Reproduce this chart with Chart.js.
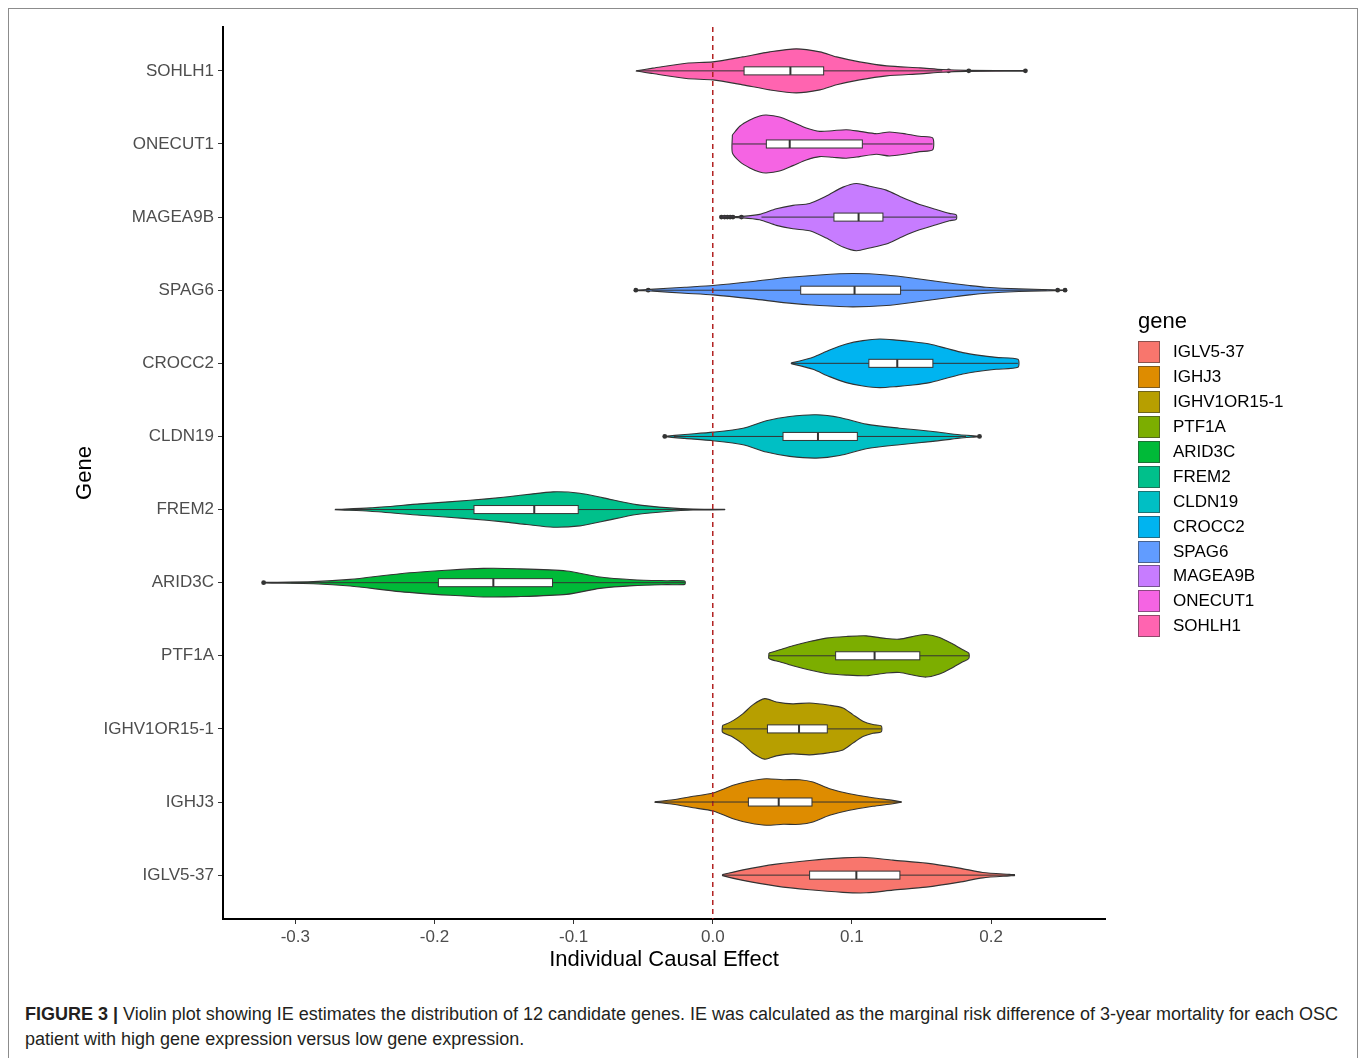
<!DOCTYPE html>
<html lang="en">
<head>
    <meta charset="UTF-8" />
    <title>Figure 3 - Individual causal effect by gene</title>
    <script src="https://cdn.jsdelivr.net/npm/chart.js"></script>
    <style>
        body { margin: 0; background: #fff; font-family: "Liberation Sans", Arial, sans-serif; }
        #frame { position: absolute; left: 8px; top: 8px; width: 1348px; height: 1070px; border: 1px solid #8c8c8c; }
        #wrap { position: absolute; left: 0; top: 2px; width: 1358px; height: 990px; }
        #legend { position: absolute; left: 1138px; top: 308px; color: #000; }
        #legend .title { font-size: 22px; line-height: 26px; height: 26px; margin-bottom: 6px; }
        #legend .item { display: flex; align-items: center; height: 24.9px; font-size: 17px; }
        #legend .sw { width: 22px; height: 22px; box-sizing: border-box; border: 1px solid rgba(51,51,51,0.55); margin-right: 13px; }
        #caption { position: absolute; left: 25px; top: 1002px; font-size: 18px; line-height: 25px; color: #231f20; white-space: nowrap; }
    </style>
</head>
<body>
    <div id="frame"></div>
    <div id="wrap"><canvas id="violinChart" width="1358" height="990"></canvas></div>
    <div id="legend"></div>
    <div id="caption"><b>FIGURE 3 |</b> Violin plot showing IE estimates the distribution of 12 candidate genes. IE was calculated as the marginal risk difference of 3-year mortality for each OSC<br>patient with high gene expression versus low gene expression.</div>
    <script>
        // genes from bottom row to top row
        const genes = ['IGLV5-37', 'IGHJ3', 'IGHV1OR15-1', 'PTF1A', 'ARID3C', 'FREM2',
                       'CLDN19', 'CROCC2', 'SPAG6', 'MAGEA9B', 'ONECUT1', 'SOHLH1'];
        const colors = ['#F8766D', '#DE8C00', '#B79F00', '#7CAE00', '#00BA38', '#00C08B',
                        '#00BFC4', '#00B4F0', '#619CFF', '#C77CFF', '#F564E3', '#FF64B0'];
        const xTicks = [-0.3, -0.2, -0.1, 0.0, 0.1, 0.2];
        const xTickLabels = ['-0.3', '-0.2', '-0.1', '0.0', '0.1', '0.2'];

        // violin outline: effect values and density half-widths (in row units)
        const profileX = [
            [0.007, 0.0218, 0.0457, 0.0696, 0.0936, 0.1103, 0.1294, 0.1534, 0.1773, 0.194, 0.2132, 0.2168],
            [-0.0416, -0.0285, -0.0141, 0.0002, 0.0146, 0.0266, 0.0385, 0.0505, 0.0625, 0.072, 0.084, 0.0983, 0.1151, 0.1294, 0.1355],
            [0.007, 0.0146, 0.0218, 0.029, 0.0373, 0.0457, 0.0576, 0.0696, 0.084, 0.0936, 0.1007, 0.1079, 0.1151, 0.1211],
            [0.0404, 0.0481, 0.0576, 0.0696, 0.0816, 0.096, 0.1103, 0.1247, 0.1342, 0.1462, 0.1534, 0.163, 0.1725, 0.1797, 0.184],
            [-0.3228, -0.287, -0.2606, -0.2247, -0.1888, -0.1649, -0.1409, -0.1051, -0.0811, -0.0572, -0.0332, -0.0201],
            [-0.2714, -0.2462, -0.2103, -0.1744, -0.1505, -0.1337, -0.1146, -0.0955, -0.0787, -0.0548, -0.0309, -0.0141, 0.0086],
            [-0.0345, -0.02, 0.0002, 0.0218, 0.0385, 0.0553, 0.0744, 0.0912, 0.1103, 0.1342, 0.1582, 0.1773, 0.1917],
            [0.0565, 0.0625, 0.072, 0.084, 0.096, 0.1079, 0.1199, 0.1319, 0.1438, 0.1558, 0.1678, 0.1797, 0.1917, 0.2036, 0.2193],
            [-0.0553, -0.045, -0.02, 0.0002, 0.0289, 0.0529, 0.0768, 0.1007, 0.1247, 0.1486, 0.1725, 0.1845, 0.1964, 0.22, 0.2532],
            [0.0062, 0.0216, 0.0337, 0.0457, 0.0577, 0.0696, 0.0816, 0.0936, 0.1032, 0.1127, 0.1247, 0.1366, 0.1486, 0.1606, 0.17, 0.175],
            [0.0141, 0.0194, 0.0266, 0.0337, 0.0385, 0.048, 0.0576, 0.0672, 0.0768, 0.086, 0.096, 0.1055, 0.1175, 0.127, 0.139, 0.1486, 0.158],
            [-0.055, -0.043, -0.019, 0.0, 0.0215, 0.041, 0.06, 0.077, 0.089, 0.1055, 0.125, 0.149, 0.165, 0.182, 0.2247]
        ];
        const profileW = [
            [0.007, 0.072, 0.150, 0.201, 0.236, 0.242, 0.205, 0.164, 0.096, 0.037, 0.010, 0.007],
            [0.002, 0.031, 0.078, 0.123, 0.228, 0.287, 0.318, 0.305, 0.305, 0.273, 0.182, 0.113, 0.059, 0.023, 0.002],
            [0.045, 0.113, 0.209, 0.332, 0.414, 0.369, 0.342, 0.355, 0.324, 0.287, 0.195, 0.105, 0.059, 0.041],
            [0.037, 0.082, 0.137, 0.195, 0.242, 0.264, 0.273, 0.236, 0.228, 0.273, 0.291, 0.250, 0.160, 0.082, 0.037],
            [0.004, 0.014, 0.045, 0.123, 0.173, 0.195, 0.191, 0.160, 0.078, 0.041, 0.027, 0.023],
            [0.002, 0.023, 0.078, 0.127, 0.168, 0.205, 0.242, 0.223, 0.160, 0.068, 0.023, 0.007, 0.003],
            [0.002, 0.027, 0.059, 0.113, 0.214, 0.273, 0.296, 0.260, 0.168, 0.113, 0.068, 0.023, 0.002],
            [0.007, 0.031, 0.082, 0.182, 0.264, 0.310, 0.332, 0.318, 0.296, 0.264, 0.205, 0.146, 0.109, 0.082, 0.055],
            [0.002, 0.011, 0.041, 0.064, 0.119, 0.173, 0.209, 0.228, 0.209, 0.154, 0.092, 0.064, 0.041, 0.018, 0.002],
            [0.002, 0.010, 0.037, 0.113, 0.160, 0.187, 0.287, 0.410, 0.460, 0.423, 0.369, 0.264, 0.173, 0.105, 0.051, 0.031],
            [0.123, 0.242, 0.328, 0.383, 0.396, 0.369, 0.296, 0.219, 0.173, 0.182, 0.195, 0.173, 0.141, 0.164, 0.137, 0.105, 0.082],
            [0.002, 0.037, 0.105, 0.123, 0.191, 0.260, 0.301, 0.260, 0.191, 0.123, 0.068, 0.041, 0.018, 0.007, 0.003]
        ];

        // box plot summaries
        const q1 = [0.0696, 0.0256, 0.0393, 0.0883, -0.1972, -0.1716, 0.0505, 0.1122, 0.0632, 0.0871, 0.0385, 0.0225];
        const medians = [0.1032, 0.0474, 0.062, 0.1163, -0.1577, -0.1283, 0.0756, 0.1326, 0.1019, 0.1048, 0.0553, 0.0558];
        const q3 = [0.1345, 0.0713, 0.0823, 0.1488, -0.1152, -0.0967, 0.1039, 0.1582, 0.135, 0.1223, 0.1075, 0.0797];
        const whiskerLo = [0.007, -0.0416, 0.007, 0.0404, -0.303, -0.2714, -0.028, 0.0565, -0.044, 0.035, 0.0141, -0.055];
        const whiskerHi = [0.2168, 0.1355, 0.1211, 0.184, -0.0201, 0.0086, 0.182, 0.2193, 0.24, 0.175, 0.158, 0.165];
        const outliers = [[], [], [], [], [-0.3228], [], [-0.0345, 0.1917], [],
                          [-0.0553, -0.0464, 0.2479, 0.2532],
                          [0.0062, 0.0085, 0.0105, 0.0125, 0.0145, 0.0206], [],
                          [0.1695, 0.184, 0.2247]];

        const boxHalf = 0.055;

        const violinSets = genes.map((g, i) => {
            const row = i + 1;
            const upper = profileX[i].map((x, k) => ({ x: x, y: row + profileW[i][k] }));
            const lower = profileX[i].map((x, k) => ({ x: x, y: row - profileW[i][k] })).reverse();
            return {
                type: 'scatter',
                label: g,
                data: [...upper, ...lower, upper[0]],
                showLine: true,
                fill: 'shape',
                backgroundColor: colors[i],
                borderColor: '#333333',
                borderWidth: 1.1,
                pointRadius: 0,
                pointHoverRadius: 0,
                tension: 0.25
            };
        });

        const outlierSet = {
            type: 'scatter',
            label: 'outliers',
            data: outliers.flatMap((arr, i) => arr.map(x => ({ x: x, y: i + 1 }))),
            pointRadius: 2.4,
            pointHoverRadius: 2.4,
            backgroundColor: '#333333',
            borderWidth: 0
        };

        const zeroLine = {
            id: 'zeroLine',
            afterDatasetsDraw(chart) {
                const { ctx, chartArea, scales } = chart;
                const x = scales.x.getPixelForValue(0);
                ctx.save();
                ctx.strokeStyle = '#b22222';
                ctx.lineWidth = 1.5;
                ctx.setLineDash([5, 4]);
                ctx.beginPath();
                ctx.moveTo(x, chartArea.top);
                ctx.lineTo(x, chartArea.bottom);
                ctx.stroke();
                ctx.restore();
            }
        };

        const boxes = {
            id: 'boxes',
            afterDatasetsDraw(chart) {
                const { ctx, scales } = chart;
                const xs = scales.x, ys = scales.y;
                ctx.save();
                genes.forEach((g, i) => {
                    const row = i + 1;
                    const yc = ys.getPixelForValue(row);
                    const yt = ys.getPixelForValue(row + boxHalf);
                    const yb = ys.getPixelForValue(row - boxHalf);
                    ctx.strokeStyle = '#333333';
                    ctx.lineWidth = 1;
                    ctx.beginPath();
                    ctx.moveTo(xs.getPixelForValue(whiskerLo[i]), yc);
                    ctx.lineTo(xs.getPixelForValue(whiskerHi[i]), yc);
                    ctx.stroke();
                    const xl = xs.getPixelForValue(q1[i]);
                    const xr = xs.getPixelForValue(q3[i]);
                    ctx.fillStyle = '#ffffff';
                    ctx.fillRect(xl, yt, xr - xl, yb - yt);
                    ctx.strokeRect(xl, yt, xr - xl, yb - yt);
                    const xm = xs.getPixelForValue(medians[i]);
                    ctx.lineWidth = 2;
                    ctx.beginPath();
                    ctx.moveTo(xm, yt);
                    ctx.lineTo(xm, yb);
                    ctx.stroke();
                });
                ctx.restore();
            }
        };

        Chart.defaults.font.family = '"Liberation Sans", Arial, sans-serif';

        const ctx = document.getElementById('violinChart').getContext('2d');
        new Chart(ctx, {
            type: 'scatter',
            data: { datasets: [...violinSets, outlierSet] },
            options: {
                responsive: false,
                animation: false,
                events: [],
                layout: { padding: { left: 0, top: 25, right: 253, bottom: 0 } },
                plugins: {
                    legend: { display: false },
                    tooltip: { enabled: false }
                },
                scales: {
                    x: {
                        type: 'linear',
                        min: -0.352,
                        max: 0.2819,
                        afterBuildTicks: s => { s.ticks = xTicks.map(v => ({ value: v })); },
                        afterFit: s => { s.height = 73; },
                        ticks: {
                            callback: (v, i) => xTickLabels[i],
                            color: '#4d4d4d',
                            font: { size: 17 },
                            padding: 3,
                            maxRotation: 0,
                            autoSkip: false
                        },
                        grid: { drawOnChartArea: false, drawTicks: true, tickLength: 5, color: '#333333' },
                        border: { display: true, color: '#000000', width: 2 },
                        title: {
                            display: true,
                            text: 'Individual Causal Effect',
                            color: '#000000',
                            font: { size: 22 },
                            padding: { top: 0, bottom: 19 }
                        }
                    },
                    y: {
                        type: 'linear',
                        min: 0.4,
                        max: 12.6,
                        afterBuildTicks: s => { s.ticks = genes.map((g, i) => ({ value: i + 1 })); },
                        afterFit: s => { s.width = 223; },
                        ticks: {
                            callback: v => genes[v - 1],
                            color: '#4d4d4d',
                            font: { size: 17 },
                            padding: 4,
                            autoSkip: false
                        },
                        grid: { drawOnChartArea: false, drawTicks: true, tickLength: 5, color: '#333333' },
                        border: { display: true, color: '#000000', width: 2 },
                        title: {
                            display: true,
                            text: 'Gene',
                            color: '#000000',
                            font: { size: 22 },
                            padding: { top: 72, bottom: 0 }
                        }
                    }
                }
            },
            plugins: [zeroLine, boxes]
        });

        // legend keys, same order as the rows from the bottom
        const legend = document.getElementById('legend');
        legend.innerHTML = '<div class="title">gene</div>' + genes.map((g, i) =>
            '<div class="item"><div class="sw" style="background:' + colors[i] + '"></div>' + g + '</div>'
        ).join('');
    </script>
</body>
</html>
